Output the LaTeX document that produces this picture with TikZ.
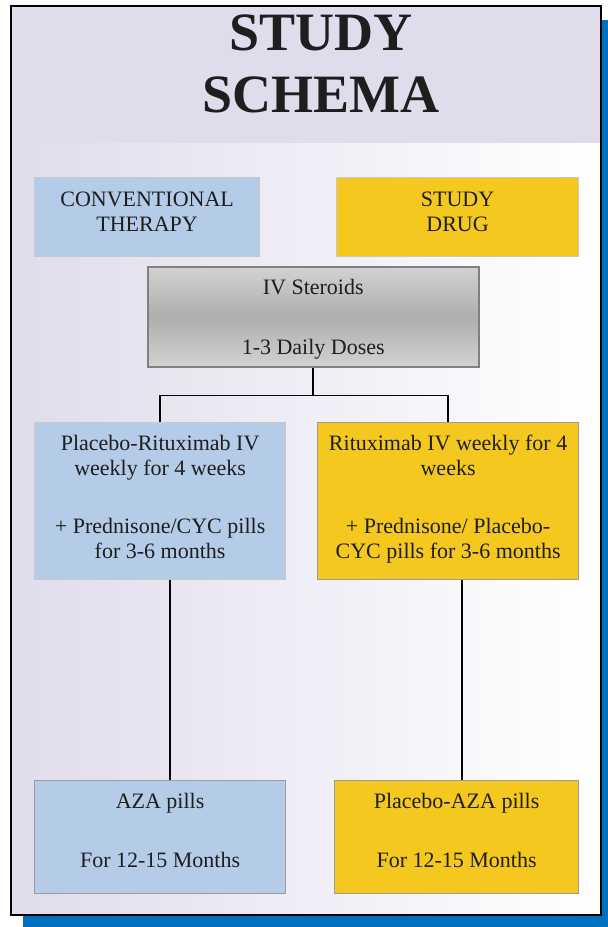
\documentclass[tikz,border=0pt]{standalone}
\usepackage{fontspec}
\setmainfont{Liberation Serif}
\definecolor{bandlav}{HTML}{E0DCEC}
\definecolor{shadowblue}{HTML}{0070C0}
\definecolor{boxblue}{HTML}{B4CCE8}
\definecolor{boxgold}{HTML}{F5C820}
\definecolor{edgelight}{HTML}{C8C8C8}
\definecolor{edgedark}{HTML}{9C9C9C}
\definecolor{ivedge}{HTML}{808080}
\definecolor{ivlight}{HTML}{D2D2D2}
\definecolor{ivdark}{HTML}{AEAEAE}
\definecolor{txtc}{HTML}{1E1E1E}
\begin{document}
\begin{tikzpicture}[x=1pt,y=-1pt,
  boxbase/.style={line width=1.2pt, inner sep=0pt, anchor=north west},
  bluebox/.style={boxbase, fill=boxblue, draw=#1},
  goldbox/.style={boxbase, fill=boxgold, draw=#1},
  ivbox/.style={boxbase, draw=ivedge, line width=1.5pt, top color=ivlight, bottom color=ivlight, middle color=ivdark},
  txt/.style={anchor=north, inner sep=0pt, align=center, text=txtc, font=\fontsize{22}{25}\selectfont},
  conn/.style={draw=black, line width=1.8pt, line join=miter}]
\useasboundingbox (0,0) rectangle (608,927);
% frame and background
\fill[shadowblue] (23,20) rectangle (608,927);
\fill[white] (11,6) rectangle (601,915);
\shade[left color=bandlav, right color=white] (11,143) rectangle (601,915);
\fill[bandlav] (11,6) rectangle (601,143);
\draw[line width=2pt] (11,6) rectangle (601,915);
% title
\node[anchor=north, inner sep=0pt, align=center, text=txtc, font=\fontsize{54}{62}\selectfont\bfseries] (title) at (321,15) {STUDY\\SCHEMA};
% boxes
\node[bluebox=edgelight, minimum width=225pt, minimum height=79pt] (conv) at (34,177) {};
\node[goldbox=edgelight, minimum width=242pt, minimum height=79pt] (drug) at (336,177) {};
\node[ivbox, minimum width=331pt, minimum height=100pt] (iv) at (147,266) {};
\node[bluebox=edgelight, minimum width=251pt, minimum height=157pt] (lm) at (34,422) {};
\node[goldbox=edgedark, minimum width=261pt, minimum height=157pt] (rm) at (317,422) {};
\node[bluebox=edgedark, minimum width=251pt, minimum height=113pt] (lb) at (34,780) {};
\node[goldbox=edgedark, minimum width=244pt, minimum height=113pt] (rb) at (334,780) {};
% texts
\node[txt] (convt) at ([yshift=-15pt]conv.north) {CONVENTIONAL\\THERAPY};
\node[txt] (drugt) at ([yshift=-15pt]drug.north) {STUDY\\DRUG};
\node[txt] (ivt) at ([yshift=-13pt]iv.north) {IV Steroids\\[35pt]1-3 Daily Doses};
\node[txt] (lmt) at ([yshift=-13pt]lm.north) {Placebo-Rituximab IV\\weekly for 4 weeks\\[33pt]+ Prednisone/CYC pills\\for 3-6 months};
\node[txt] (rmt) at ([yshift=-13pt]rm.north) {Rituximab IV weekly for 4\\weeks\\[33pt]+ Prednisone/ Placebo-\\CYC pills for 3-6 months};
\node[txt] (lbt) at ([yshift=-13pt]lb.north) {AZA pills\\[34pt]For 12-15 Months};
\node[txt] (rbt) at ([yshift=-13pt]rb.north) {Placebo-AZA pills\\[34pt]For 12-15 Months};
% connectors
\draw[conn] (iv.south) -- ++(0,28) -| (lm.north);
\draw[conn] (iv.south) -- ++(0,28) -| (rm.north);
\draw[conn] ([xshift=10pt]lm.south) -- ([xshift=10pt]lm.south |- lb.north);
\draw[conn] ([xshift=13.5pt]rm.south) -- ([xshift=13.5pt]rm.south |- rb.north);
\end{tikzpicture}
\end{document}
